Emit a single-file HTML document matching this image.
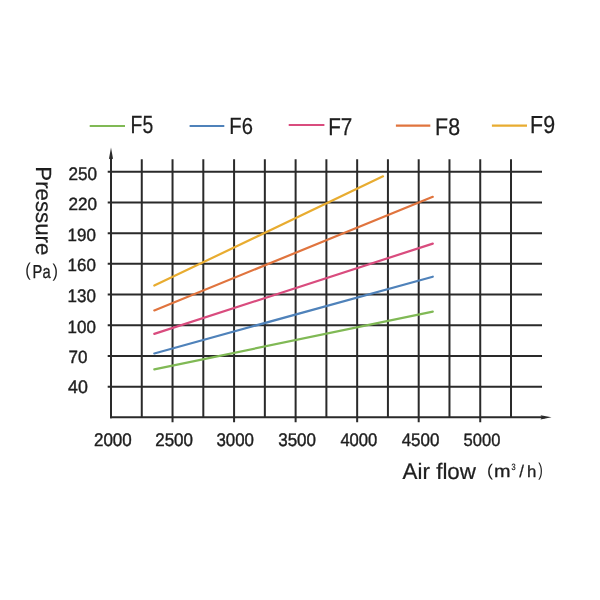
<!DOCTYPE html>
<html><head><meta charset="utf-8"><style>
html,body{margin:0;padding:0;background:#fff;width:600px;height:600px;overflow:hidden}
svg{position:absolute;left:0;top:0;display:block;will-change:transform}
svg text{font-family:"Liberation Sans",sans-serif;text-rendering:geometricPrecision}
</style></head><body>
<svg width="600" height="600" viewBox="0 0 600 600">
<g stroke="#2a2a2a" stroke-width="2.0">
<line x1="107.7" y1="171.75" x2="542" y2="171.75"/>
<line x1="107.7" y1="202.45" x2="542" y2="202.45"/>
<line x1="107.7" y1="233.15" x2="542" y2="233.15"/>
<line x1="107.7" y1="263.85" x2="542" y2="263.85"/>
<line x1="107.7" y1="294.55" x2="542" y2="294.55"/>
<line x1="107.7" y1="325.25" x2="542" y2="325.25"/>
<line x1="107.7" y1="355.95" x2="542" y2="355.95"/>
<line x1="107.7" y1="386.65" x2="542" y2="386.65"/>
<line x1="110.00" y1="417.35" x2="545" y2="417.35"/>
<line x1="111.00" y1="156" x2="111.00" y2="418.35"/>
<line x1="141.77" y1="159.3" x2="141.77" y2="417.35"/>
<line x1="172.54" y1="159.3" x2="172.54" y2="422.35"/>
<line x1="203.31" y1="159.3" x2="203.31" y2="417.35"/>
<line x1="234.08" y1="159.3" x2="234.08" y2="422.35"/>
<line x1="264.85" y1="159.3" x2="264.85" y2="417.35"/>
<line x1="295.62" y1="159.3" x2="295.62" y2="422.35"/>
<line x1="326.39" y1="159.3" x2="326.39" y2="417.35"/>
<line x1="357.16" y1="159.3" x2="357.16" y2="422.35"/>
<line x1="387.93" y1="159.3" x2="387.93" y2="417.35"/>
<line x1="418.70" y1="159.3" x2="418.70" y2="422.35"/>
<line x1="449.47" y1="159.3" x2="449.47" y2="417.35"/>
<line x1="480.24" y1="159.3" x2="480.24" y2="422.35"/>
<line x1="511.01" y1="159.3" x2="511.01" y2="417.35"/>
</g>
<path d="M551.5 417.35 L540.5 415.15 L542 417.35 L540.5 419.55 Z" fill="#2a2a2a"/>
<path d="M111.00 147.5 L113.10 159.2 L111.00 158 L108.90 159.2 Z" fill="#2a2a2a"/>
<line x1="154.3" y1="285.6" x2="383.0" y2="176.3" stroke="#e8ac30" stroke-width="2.2" stroke-linecap="round"/>
<line x1="154.3" y1="310.4" x2="432.8" y2="196.8" stroke="#e0743e" stroke-width="2.2" stroke-linecap="round"/>
<line x1="154.3" y1="333.9" x2="432.8" y2="243.6" stroke="#d94c7e" stroke-width="2.2" stroke-linecap="round"/>
<line x1="154.3" y1="353.5" x2="432.8" y2="276.7" stroke="#4f82ba" stroke-width="2.2" stroke-linecap="round"/>
<line x1="154.3" y1="369.4" x2="432.8" y2="311.6" stroke="#80b955" stroke-width="2.2" stroke-linecap="round"/>
<line x1="89.7" y1="126.0" x2="125.0" y2="126.0" stroke="#80b955" stroke-width="2.2"/>
<line x1="189.6" y1="126.0" x2="224.3" y2="126.0" stroke="#4f82ba" stroke-width="2.2"/>
<line x1="288.7" y1="125.0" x2="324.4" y2="125.0" stroke="#d94c7e" stroke-width="2.2"/>
<line x1="395.9" y1="125.7" x2="430.3" y2="125.7" stroke="#e0743e" stroke-width="2.2"/>
<line x1="491.9" y1="125.7" x2="527.0" y2="125.7" stroke="#e8ac30" stroke-width="2.2"/>
<g fill="#1e1e1e">
<text transform="matrix(0.8242 0.0000 0.0000 1.0545 130.5576 133.2364)" font-size="23.5" stroke="#1e1e1e" stroke-width="0.25">F5</text>
<text transform="matrix(0.8606 0.0000 0.0000 0.9910 229.2939 133.9522)" font-size="23.5" stroke="#1e1e1e" stroke-width="0.25">F6</text>
<text transform="matrix(0.8808 0.0000 0.0000 1.0400 328.1586 134.5000)" font-size="23.5" stroke="#1e1e1e" stroke-width="0.25">F7</text>
<text transform="matrix(0.9091 0.0000 0.0000 1.0269 435.1091 135.1433)" font-size="23.5" stroke="#1e1e1e" stroke-width="0.25">F8</text>
<text transform="matrix(0.9091 0.0000 0.0000 1.0448 530.1091 133.1388)" font-size="23.5" stroke="#1e1e1e" stroke-width="0.25">F9</text>
<text transform="matrix(0.9254 0.0000 0.0000 0.9811 68.5059 179.7547)" font-size="18.5" stroke="#1e1e1e" stroke-width="0.42">250</text>
<text transform="matrix(0.9254 0.0000 0.0000 0.9585 68.5059 209.7604)" font-size="18.5" stroke="#1e1e1e" stroke-width="0.42">220</text>
<text transform="matrix(0.9172 0.0000 0.0000 0.9585 67.5534 240.7604)" font-size="18.5" stroke="#1e1e1e" stroke-width="0.42">190</text>
<text transform="matrix(0.9172 0.0000 0.0000 0.9585 67.5534 271.4604)" font-size="18.5" stroke="#1e1e1e" stroke-width="0.42">160</text>
<text transform="matrix(0.9172 0.0000 0.0000 0.9811 67.5534 301.7547)" font-size="18.5" stroke="#1e1e1e" stroke-width="0.42">130</text>
<text transform="matrix(0.9172 0.0000 0.0000 0.9585 67.5534 332.7604)" font-size="18.5" stroke="#1e1e1e" stroke-width="0.42">100</text>
<text transform="matrix(0.9195 0.0000 0.0000 0.9585 68.6104 362.7604)" font-size="18.5" stroke="#1e1e1e" stroke-width="0.42">70</text>
<text transform="matrix(0.9620 0.0000 0.0000 0.9811 68.0595 393.0547)" font-size="18.5" stroke="#1e1e1e" stroke-width="0.42">40</text>
<text transform="matrix(0.9187 0.0000 0.0000 0.9925 93.9609 445.6519)" font-size="18.5" stroke="#1e1e1e" stroke-width="0.42">2000</text>
<text transform="matrix(0.9175 0.0000 0.0000 0.9925 155.2119 445.6519)" font-size="18.5" stroke="#1e1e1e" stroke-width="0.42">2500</text>
<text transform="matrix(0.9118 0.0000 0.0000 0.9925 216.4441 445.6519)" font-size="18.5" stroke="#1e1e1e" stroke-width="0.42">3000</text>
<text transform="matrix(0.9180 0.0000 0.0000 0.9925 278.1910 445.6519)" font-size="18.5" stroke="#1e1e1e" stroke-width="0.42">3500</text>
<text transform="matrix(0.8988 0.0000 0.0000 0.9925 340.3753 445.6519)" font-size="18.5" stroke="#1e1e1e" stroke-width="0.42">4000</text>
<text transform="matrix(0.9160 0.0000 0.0000 0.9925 401.6710 445.6519)" font-size="18.5" stroke="#1e1e1e" stroke-width="0.42">4500</text>
<text transform="matrix(0.8944 0.0000 0.0000 0.9660 463.5528 445.6585)" font-size="18.5" stroke="#1e1e1e" stroke-width="0.42">5000</text>
<text transform="matrix(0.0000 0.9676 -0.9538 0.0000 35.5385 166.3067)" font-size="23" stroke="#1e1e1e" stroke-width="0.2">Pressure</text>
<text transform="matrix(0.8842 0.0000 0.0000 1.0059 25.2947 275.8279)" font-size="18.5">(</text>
<text transform="matrix(0.7953 0.0000 0.0000 1.0154 32.6058 277.5462)" font-size="18.5" stroke="#1e1e1e" stroke-width="0.3">Pa</text>
<text transform="matrix(0.8842 0.0000 0.0000 1.0059 52.5789 277.3279)" font-size="18.5">)</text>
<text transform="matrix(0.9946 0.0000 0.0000 0.9970 402.6000 478.9507)" font-size="22.5" stroke="#1e1e1e" stroke-width="0.25">Air flow</text>
<text transform="matrix(0.9684 0.0000 0.0000 0.9118 487.0895 475.5809)" font-size="18.5">(</text>
<text transform="matrix(1.0717 0.0000 0.0000 0.9366 493.9283 476.9659)" font-size="18.5" stroke="#1e1e1e" stroke-width="0.35">m</text>
<text transform="matrix(0.7789 0.0000 0.0000 0.9571 511.5053 470.2607)" font-size="9.5" stroke="#1e1e1e" stroke-width="0.25">3</text>
<text transform="matrix(0.9091 0.0000 0.0000 0.9091 519.2273 477.2727)" font-size="18.5" stroke="#1e1e1e" stroke-width="0.3">/</text>
<text transform="matrix(0.9091 0.0000 0.0000 0.8727 527.0909 476.7818)" font-size="18.5" stroke="#1e1e1e" stroke-width="0.35">h</text>
<text transform="matrix(0.7368 0.0000 0.0000 1.0000 538.3158 475.7500)" font-size="18.5">)</text>
</g>
</svg>
</body></html>
